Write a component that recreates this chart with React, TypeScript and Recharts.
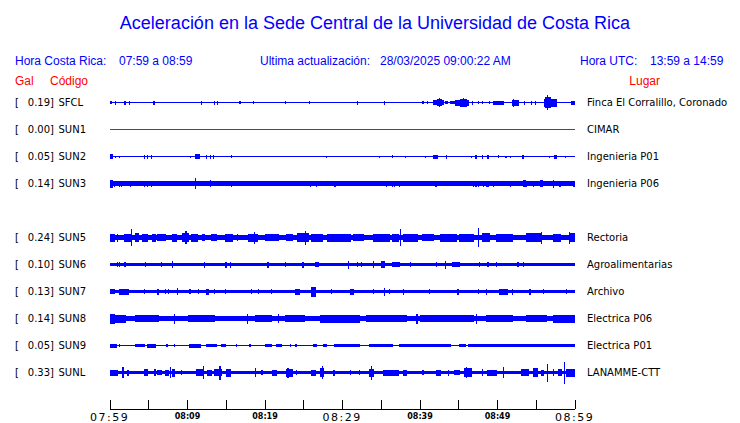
import React from 'react';
import { ComposedChart, Area, XAxis, YAxis } from 'recharts';

// stations, top to bottom (row 4 is left empty, SUN4 is not shown)
const codes = ['SFCL', 'SUN1', 'SUN2', 'SUN3', 'SUN5', 'SUN6', 'SUN7', 'SUN8', 'SUN9', 'SUNL'];
const gals = ['0.19', '0.00', '0.05', '0.14', '0.24', '0.10', '0.13', '0.14', '0.05', '0.33'];
const places = [
  'Finca El Corralillo, Coronado',
  'CIMAR',
  'Ingenieria P01',
  'Ingenieria P06',
  'Rectoria',
  'Agroalimentarias',
  'Archivo',
  'Electrica P06',
  'Electrica P01',
  'LANAMME-CTT',
];
const rows = [0, 1, 2, 3, 5, 6, 7, 8, 9, 10];
// background noise half-amplitude of each trace
const baseAmp = [0.7, 0.7, 0.7, 2.3, 2.7, 1.7, 1.4, 2.7, 0.7, 1.7];

// minutes after 07:59
const tickMinutes = [0, 5, 10, 15, 20, 25, 30, 35, 40, 45, 50, 55, 60];
const tickLabels = ['07:59', '', '08:09', '', '08:19', '', '08:29', '', '08:39', '', '08:49', '', '08:59'];

// events: [start min, end min, half amplitude]
const sfclEvents = [
  [0.13, 0.13, 1.5], [0.3, 0.3, 1.5], [0.77, 0.77, 2], [1.94, 1.94, 2], [2.45, 2.45, 2], [5.68, 5.68, 2],
  [11.78, 11.78, 2], [13.55, 13.55, 2], [13.85, 13.85, 2], [16.81, 16.81, 1.5], [18.49, 18.49, 1.5],
  [22.62, 22.62, 1.5], [25.72, 25.72, 1.5], [31.83, 31.83, 2], [35.39, 35.39, 2], [40.43, 40.43, 1.5],
  [40.95, 40.95, 1.5], [41.72, 43.01, 2.5], [42.2, 42.8, 3.5], [42.49, 42.49, 4.7], [43.23, 43.48, 1.5],
  [43.87, 44.52, 1.5], [44.61, 46.23, 3], [45.2, 46.0, 4], [45.59, 45.59, 4.7], [46.75, 46.75, 2],
  [47.48, 47.48, 1.5], [48.13, 48.13, 1.5], [49.03, 49.03, 1.5], [49.55, 50.71, 2], [51.83, 52.68, 3],
  [52.09, 52.09, 4], [53.55, 53.55, 2], [54.41, 54.41, 2], [54.84, 54.84, 2], [56, 57.64, 4],
  [56.3, 56.9, 5.5], [56.55, 56.55, 7.3], [59.48, 60, 2],
];
const sun1Events: number[][] = [];
const sun2Events = [
  [0.13, 0.39, 2.5], [0.77, 0.77, 1], [1.29, 1.29, 1], [4.52, 4.52, 2], [4.9, 4.9, 2], [5.42, 5.42, 2],
  [10.41, 10.41, 1], [10.97, 11.48, 2.5], [12.54, 12.54, 2], [13.03, 13.03, 2], [13.33, 13.33, 2],
  [15.65, 15.65, 1.5], [24, 24, 1], [27.91, 27.91, 1], [34.75, 34.75, 1], [36.55, 36.55, 1.5], [38.1, 38.1, 1],
  [40.74, 40.74, 1], [41.81, 42.23, 2], [43.35, 43.35, 2], [46.58, 46.58, 1], [47.19, 47.19, 2],
  [48.17, 48.17, 2], [48.81, 48.81, 2], [50.1, 50.1, 1.5], [51.06, 51.06, 1], [51.61, 51.61, 1],
  [53.2, 53.33, 2], [56.77, 56.77, 1], [57.42, 57.64, 2], [58.79, 58.79, 1],
];
const sun3Events = [
  [0.13, 0.39, 4], [0.65, 0.65, 3], [1.29, 1.29, 3], [1.55, 1.55, 3], [2.58, 2.58, 3], [4.52, 4.52, 3],
  [4.9, 4.9, 3], [5.42, 5.42, 3], [11.01, 11.01, 5.5], [13.03, 13.03, 3.5], [15.65, 15.65, 3],
  [25.85, 25.85, 3], [26.62, 26.62, 3], [29.07, 29.07, 3], [35.65, 35.65, 3], [36.55, 36.55, 3],
  [36.77, 36.77, 3], [37.42, 37.42, 3], [42.06, 42.06, 3], [46.88, 46.88, 3], [47.19, 47.19, 3],
  [47.52, 47.52, 3], [47.96, 47.96, 3], [48.26, 48.26, 3], [48.61, 48.61, 3], [48.81, 48.81, 3],
  [49.46, 49.46, 3], [51.61, 51.61, 3], [52.04, 52.04, 3], [53.42, 53.6, 3.5], [53.77, 53.77, 3],
  [54.62, 54.62, 3], [55.48, 55.74, 3.5], [57.2, 57.2, 4], [58.06, 58.06, 3], [59.78, 60, 3],
];
const sun5Events = [
  [0, 0.65, 4], [1.03, 1.03, 4], [1.94, 2.58, 4], [2.71, 2.71, 8.3], [3.23, 3.61, 4.5], [4.26, 4.9, 4],
  [5.5, 5.81, 4], [6.19, 7.1, 3.5], [7.96, 8.6, 4], [9.33, 10.1, 4.5], [9.81, 9.81, 6.5], [10.45, 11.19, 4],
  [11.83, 12.26, 3.5], [13.12, 13.77, 3.5], [14.84, 15.7, 4], [16.55, 16.55, 3.5], [17.85, 18.93, 4],
  [18.58, 18.58, 6], [20, 21.72, 3.5], [22.8, 23.45, 3.5], [24.3, 25.59, 4.5], [25.2, 25.2, 7],
  [26.03, 27.32, 4], [28.17, 30.97, 4], [31.39, 32.68, 3.5], [33.97, 36.13, 4], [36.55, 37.2, 4],
  [37.46, 37.46, 8.3], [37.85, 39.57, 4], [40.43, 41.72, 3.5], [42.58, 44.74, 4], [45.16, 46.88, 4],
  [47.52, 47.52, 9.7], [48.17, 49.03, 4.5], [49.9, 52.04, 4], [53.77, 55.48, 4.5], [55.61, 55.61, 6],
  [57.2, 58.06, 4], [59.26, 59.26, 6], [59.35, 60, 4.5],
];
const sun6Events = [
  [0, 0, 2.5], [1.03, 1.03, 2.5], [1.29, 1.29, 2.5], [1.94, 1.94, 2.5], [4.65, 4.65, 2.5], [6.67, 6.67, 2.5],
  [8.09, 8.09, 3.7], [12.26, 12.26, 3], [14.93, 14.93, 3], [15.48, 15.48, 3], [20.43, 20.43, 3],
  [22.58, 22.58, 2.5], [24.94, 24.94, 3], [26.45, 26.88, 2.5], [30.75, 30.75, 4], [31.83, 31.83, 2.5],
  [32.48, 32.48, 2.5], [33.97, 33.97, 3.5], [35.05, 35.35, 3.5], [36.55, 37.42, 2.5], [38.71, 38.71, 2.5],
  [40, 40, 2.5], [42.15, 42.15, 2.5], [43.23, 43.23, 4], [44.3, 45.16, 2.5], [47.65, 47.65, 2.5],
  [48.81, 48.81, 2.5], [49.9, 49.9, 2.5], [52.68, 52.68, 2.5], [53.33, 53.33, 2.5],
];
const sun7Events = [
  [0, 0.65, 2.5], [1.29, 2.32, 3], [4.52, 4.52, 2.5], [6.19, 6.19, 3], [7.1, 7.1, 2.5], [7.48, 7.48, 2.5],
  [8.74, 8.74, 3.5], [10.32, 10.32, 2.5], [11.39, 11.39, 2.5], [12.48, 12.77, 3], [13.55, 13.55, 2.5],
  [14.84, 14.84, 2.5], [18.28, 18.28, 2.5], [19.14, 19.14, 2.5], [20.86, 20.86, 2.5], [23.87, 24.52, 3],
  [26.03, 26.54, 5], [28.61, 28.61, 2.5], [30.97, 31.39, 3], [33.97, 33.97, 2.5], [35.39, 35.39, 4],
  [36.13, 36.13, 2.5], [37.85, 37.85, 3], [41.2, 41.2, 2.5], [44.94, 44.94, 3], [47.52, 47.52, 2.5],
  [48.61, 48.61, 3], [50.32, 51.19, 3], [51.83, 51.83, 3], [54.19, 54.19, 3], [55.91, 55.91, 2.5],
  [58.92, 58.92, 2.5],
];
const sun8Events = [
  [0, 0.65, 5], [0.65, 1.94, 4], [3.23, 6.19, 3.5], [8.39, 8.39, 5], [10.1, 13.55, 3.5], [17.77, 17.77, 5],
  [18.71, 20.86, 3.5], [21.72, 21.72, 4.5], [22.58, 25.16, 3.5], [27.1, 32.26, 4], [33.12, 38.28, 3.5],
  [39.57, 39.57, 5], [40, 46.88, 3.5], [47.23, 47.23, 5], [48.61, 52.04, 3.5], [53.77, 56.35, 3.5],
  [57.2, 60, 4],
];
const sun9Events = [
  [0, 0.87, 2], [1.29, 1.29, 1.5], [3.23, 4.52, 1.3], [4.9, 5.81, 2], [7.32, 7.32, 1.5], [8.39, 8.39, 1.5],
  [10.32, 11.61, 2], [12.48, 13.77, 1.3], [14.41, 14.84, 1.3], [16.35, 16.35, 1.5], [18.06, 18.06, 1.5],
  [20, 20.86, 1.3], [21.51, 22.15, 1.3], [23.23, 23.23, 1.5], [23.87, 24.09, 1.5], [26.23, 26.67, 1.3],
  [27.52, 27.96, 1.3], [29.03, 32.26, 1.3], [33.55, 36.55, 1.3], [37.42, 43.87, 1.3], [45.16, 45.81, 1.3],
  [46.23, 60, 1.3],
];
const sunlEvents = [
  [0, 1.03, 3], [1.68, 1.68, 5.5], [2.32, 2.32, 3], [4.52, 4.9, 3.5], [5.81, 5.81, 3.5], [6.19, 6.58, 2.5],
  [7.1, 7.48, 3], [7.74, 7.74, 5.5], [7.96, 8.39, 4], [9.25, 9.25, 2.5], [11.19, 11.83, 3.5],
  [12.17, 12.17, 6.5], [12.68, 13.12, 3], [13.55, 14.41, 3.5], [14.19, 14.19, 7], [15.06, 15.48, 4],
  [18.71, 18.71, 4.5], [19.57, 19.57, 2.5], [21.07, 21.51, 3], [22.8, 23.45, 4], [22.93, 22.93, 5],
  [24.09, 24.09, 2.5], [26.03, 26.45, 3], [27.1, 27.52, 4.5], [27.39, 27.39, 6.5], [28.94, 28.94, 3],
  [30.97, 30.97, 2.5], [32.26, 32.26, 2.5], [33.55, 33.97, 4], [33.77, 33.77, 7], [35.26, 37.2, 3],
  [37.85, 38.28, 3], [40.43, 40.43, 2.5], [42.15, 42.58, 3], [43.65, 43.65, 3], [44.52, 45.16, 2.5],
  [45.81, 46.67, 4.5], [46.03, 46.03, 5.5], [48, 48.17, 3.5], [48.81, 49.9, 3], [50.75, 50.75, 5.5],
  [53.12, 53.97, 3.5], [54.62, 55.06, 4.5], [55.61, 56, 3], [56.55, 56.55, 9], [57.2, 57.2, 3.5],
  [57.84, 58.28, 3.5], [58.61, 58.61, 11], [58.92, 60, 4],
];
const traceEvents = [sfclEvents, sun1Events, sun2Events, sun3Events, sun5Events, sun6Events, sun7Events, sun8Events, sun9Events, sunlEvents];

const ROW = 27;
const STEP = 0.125;
const BLUE = '#0000ff';
const RED = '#ff0000';

const data: any[] = [];
for (let i = 0; i <= 60 / STEP; i++) {
  const t = i * STEP;
  const point: any = { t };
  codes.forEach((code, k) => {
    let a = baseAmp[k];
    for (const [s, e, amp] of traceEvents[k]) {
      if (t >= s - 0.07 && t <= e + 0.07 && amp > a) a = amp;
    }
    const c = -rows[k] * ROW;
    point[code] = [c - a, c + a];
  });
  data.push(point);
}

const AxisTick = (props: any) => {
  const { x, y, payload, index } = props;
  const label = tickLabels[index] ?? '';
  const major = payload.value % 30 === 0;
  return (
    <g>
      <line x1={x} x2={x} y1={y - 9} y2={y} stroke="#000" shapeRendering="crispEdges" />
      {label &&
        (major ? (
          <text x={x - 20} y={y + 12} fontFamily="DejaVu Sans" fontSize={11} letterSpacing={1.5} fill="#000">
            {label}
          </text>
        ) : (
          <text x={x} y={y + 9.5} textAnchor="middle" fontFamily="DejaVu Sans" fontWeight="bold" fontSize={8} fill="#000">
            {label}
          </text>
        ))}
    </g>
  );
};

export default function App() {
  return (
    <div style={{ position: 'absolute', left: 0, top: 0, width: 740, height: 423, background: '#fff' }}>
      <ComposedChart
        width={740}
        height={423}
        data={data}
        margin={{ top: 75.5, right: 165, left: 110, bottom: 0 }}
      >
        <XAxis
          dataKey="t"
          type="number"
          domain={[0, 60]}
          ticks={tickMinutes}
          interval={0}
          height={14}
          tickSize={0}
          tickMargin={0}
          axisLine={{ stroke: '#000', shapeRendering: 'crispEdges' }}
          tick={<AxisTick />}
        />
        <YAxis hide type="number" domain={[-306.5, 27]} allowDataOverflow />
        {codes.map((code) => (
          <Area
            key={code}
            dataKey={code}
            type="step"
            stroke="none"
            fill={code === 'SUN1' ? RED : BLUE}
            fillOpacity={1}
            shapeRendering="crispEdges"
            dot={false}
            activeDot={false}
            isAnimationActive={false}
          />
        ))}
      </ComposedChart>
      <svg
        width={740}
        height={423}
        style={{ position: 'absolute', left: 0, top: 0, pointerEvents: 'none' }}
      >
        <g fontFamily="'Liberation Sans', Arial, sans-serif" fill={BLUE}>
          <text x={375} y={29} fontSize={18} textAnchor="middle">
            Aceleración en la Sede Central de la Universidad de Costa Rica
          </text>
          <text x={15} y={64.5} fontSize={12}>Hora Costa Rica:</text>
          <text x={119} y={64.5} fontSize={12}>07:59 a 08:59</text>
          <text x={260} y={64.5} fontSize={12}>Ultima actualización:</text>
          <text x={380} y={64.5} fontSize={12}>28/03/2025 09:00:22 AM</text>
          <text x={580} y={64.5} fontSize={12}>Hora UTC:</text>
          <text x={650} y={64.5} fontSize={12}>13:59 a 14:59</text>
          <text x={15} y={84.5} fontSize={12} fill={RED}>Gal</text>
          <text x={50} y={84.5} fontSize={12} fill={RED}>Código</text>
          <text x={660} y={84.5} fontSize={12} fill={RED} textAnchor="end">Lugar</text>
        </g>
        <g fontFamily="'DejaVu Sans', sans-serif" fontSize={10} fill="#000">
          {codes.map((code, k) => {
            const cy = 102.5 + rows[k] * ROW + 3.7;
            return (
              <g key={code}>
                <text x={15} y={cy}>[</text>
                <text x={54} y={cy} textAnchor="end">{gals[k] + ']'}</text>
                <text x={58.5} y={cy}>{code}</text>
                <text x={587} y={cy}>{places[k]}</text>
              </g>
            );
          })}
        </g>
      </svg>
    </div>
  );
}
